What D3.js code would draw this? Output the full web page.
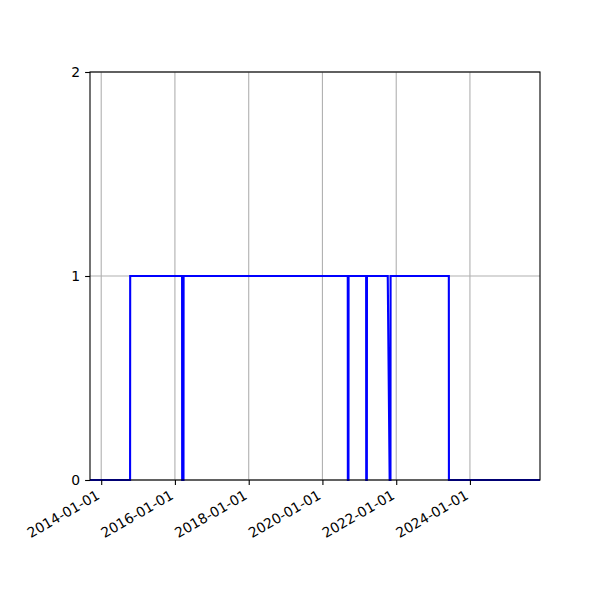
<!DOCTYPE html>
<html>
<head>
<meta charset="utf-8">
<script src="https://cdn.jsdelivr.net/npm/d3@7"></script>
<style>
body { margin: 0; background: #fff; }
text { font-family: "DejaVu Sans", sans-serif; }
</style>
</head>
<body>
<div id="chart"></div>
<script>
// status series, one point per change
const dates = ["2013-09-12", "2014-10-14", "2014-10-15", "2016-03-12", "2016-03-13",
  "2016-03-26", "2016-03-27", "2020-09-08", "2020-09-09", "2020-09-15", "2020-09-16",
  "2021-03-09", "2021-03-10", "2021-03-16", "2021-03-17", "2021-10-09", "2021-10-28",
  "2021-11-05", "2021-11-06", "2023-06-06", "2023-06-07", "2025-11-25"]
const values = [0, 0, 1, 1, 0, 0, 1, 1, 0, 0, 1, 1, 0, 0, 1, 1, 0, 0, 1, 1, 0, 0]

const xTicks = ["2014-01-01", "2016-01-01", "2018-01-01", "2020-01-01", "2022-01-01", "2024-01-01"]
const yTicks = [0, 1, 2]

W = 600
H = 600
ml = 90
mr = 60
mt = 72
mb = 120

parse = d3.utcParse("%Y-%m-%d")
fmt = d3.utcFormat("%Y-%m-%d")

data = dates.map(function(d, i){ return {date: parse(d), value: values[i]} })

var svg = d3.select("#chart").append("svg")
  .attr("width", W)
  .attr("height", H)

x = d3.scaleUtc()
  .domain(d3.extent(data, function(d){ return d.date }))
  .range([ml, W - mr])

y = d3.scaleLinear()
  .domain([0, 2])
  .range([H - mb, mt])

// grid
svg.append("g").selectAll("line").data(xTicks.map(parse))
  .enter().append("line")
  .attr("x1", function(d){ return x(d) }).attr("x2", function(d){ return x(d) })
  .attr("y1", mt).attr("y2", H - mb)
  .attr("stroke", "#b0b0b0").attr("stroke-width", 1.1)

svg.append("g").selectAll("line").data(yTicks)
  .enter().append("line")
  .attr("x1", ml).attr("x2", W - mr)
  .attr("y1", function(d){ return y(d) }).attr("y2", function(d){ return y(d) })
  .attr("stroke", "#b0b0b0").attr("stroke-width", 1.1)

svg.append("clipPath").attr("id", "clip")
  .append("rect").attr("x", ml).attr("y", mt - 2)
  .attr("width", W - ml - mr).attr("height", H - mt - mb + 4)

line = d3.line()
  .x(function(d){ return x(d.date) })
  .y(function(d){ return y(d.value) })

svg.append("path")
  .datum(data)
  .attr("clip-path", "url(#clip)")
  .attr("d", line)
  .attr("fill", "none")
  .attr("stroke", "blue")
  .attr("stroke-width", 2.1)

// axes
var xa = svg.append("g")
  .attr("transform", "translate(0," + (H - mb) + ")")
  .call(d3.axisBottom(x).tickValues(xTicks.map(parse)).tickFormat(fmt).tickSizeOuter(0).tickSize(4.9).tickPadding(4))
xa.select(".domain").remove()
xa.selectAll("line").attr("stroke", "#000").attr("stroke-width", 1.1)
xa.selectAll("text")
  .attr("font-size", "13.9px")
  .attr("fill", "#000")
  .attr("text-anchor", "end")
  .attr("y", 0).attr("dy", 0)
  .attr("transform", "translate(-1,18) rotate(-30)")

var ya = svg.append("g")
  .attr("transform", "translate(" + ml + ",0)")
  .call(d3.axisLeft(y).tickValues(yTicks).tickFormat(d3.format("d")).tickSizeOuter(0).tickSize(4.9).tickPadding(4.9))
ya.select(".domain").remove()
ya.selectAll("line").attr("stroke", "#000").attr("stroke-width", 1.1)
ya.selectAll("text").attr("font-size", "13.9px").attr("fill", "#000")

// frame
svg.append("rect")
  .attr("x", ml).attr("y", mt)
  .attr("width", W - ml - mr).attr("height", H - mt - mb)
  .attr("fill", "none").attr("stroke", "#000").attr("stroke-width", 1.1)
</script>
</body>
</html>
